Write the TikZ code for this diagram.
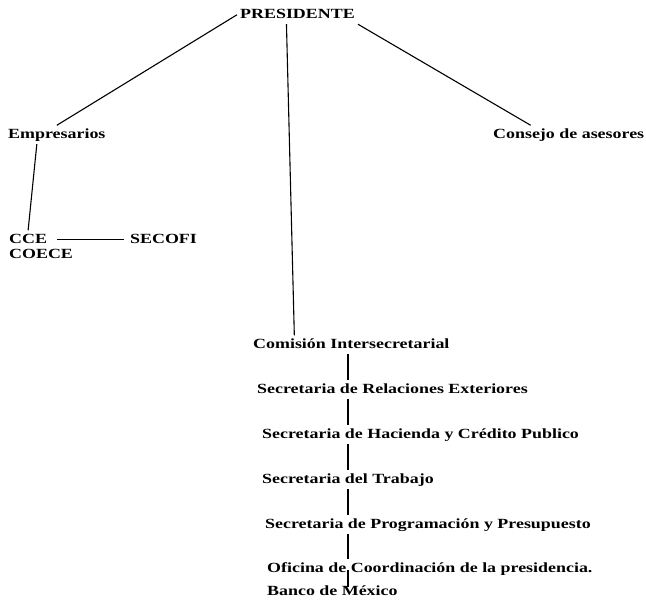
\documentclass[tikz,border=0pt]{standalone}
\usepackage{fontspec}
\setmainfont{Liberation Serif}[FakeStretch=1.28]
\tikzset{
  org/.style={font=\bfseries\fontsize{14}{16}\selectfont, inner sep=3pt,
    text height=9.5pt, text depth=3pt, anchor=base west},
  link/.style={line width=1.1pt}
}
\begin{document}
\begin{tikzpicture}[x=1pt,y=-1pt]
	\useasboundingbox (0,0) rectangle (646,605);
        % top level
	\node (presidente) at (237,18) [org] {PRESIDENTE};
	\node (empresarios) at (5,138) [org] {Empresarios};
	\node (consejo) at (490,138) [org] {Consejo de asesores};
        % business side
	\node (cce) at (6,243) [org] {CCE};
	\node (coece) at (6,258) [org] {COECE};
	\node (secofi) at (127,243) [org] {SECOFI};
        % secretariat chain
	\node (comision) at (250,348) [org] {Comisión Intersecretarial};
	\node (relaciones) at (254,393) [org] {Secretaria de Relaciones Exteriores};
	\node (hacienda) at (259,438) [org] {Secretaria de Hacienda y Crédito Publico};
	\node (trabajo) at (259,483) [org] {Secretaria del Trabajo};
	\node (programacion) at (262,528) [org] {Secretaria de Programación y Presupuesto};
	\node (oficina) at (264,572) [org] {Oficina de Coordinación de la presidencia.};
	\node (banco) at (264,595) [org] {Banco de México};
	\coordinate (spine) at (348,0);

	\draw[link] (presidente.west) -- (empresarios.north);
	\draw[link] (presidente.south east) -- ([xshift=-38pt]consejo.north);
	\draw[link] ([xshift=-11pt]presidente.south) -- ([xshift=-57pt]comision.north);

	\draw[link] ([xshift=-20pt]empresarios.south) -- (cce.north);
	\draw[link] ([xshift=7pt]cce.east) -- ([xshift=-3pt]secofi.west);

	\draw[link] (comision.south -| spine) -- (relaciones.north -| spine);
	\draw[link] (relaciones.south -| spine) -- (hacienda.north -| spine);
	\draw[link] (hacienda.south -| spine) -- (trabajo.north -| spine);
	\draw[link] (trabajo.south -| spine) -- (programacion.north -| spine);
	\draw[link] (programacion.south -| spine) -- (oficina.north -| spine);
	\draw[link] ([yshift=8pt]oficina.south -| spine) -- ([yshift=-4.5pt]banco.north -| spine);
\end{tikzpicture}
\end{document}
